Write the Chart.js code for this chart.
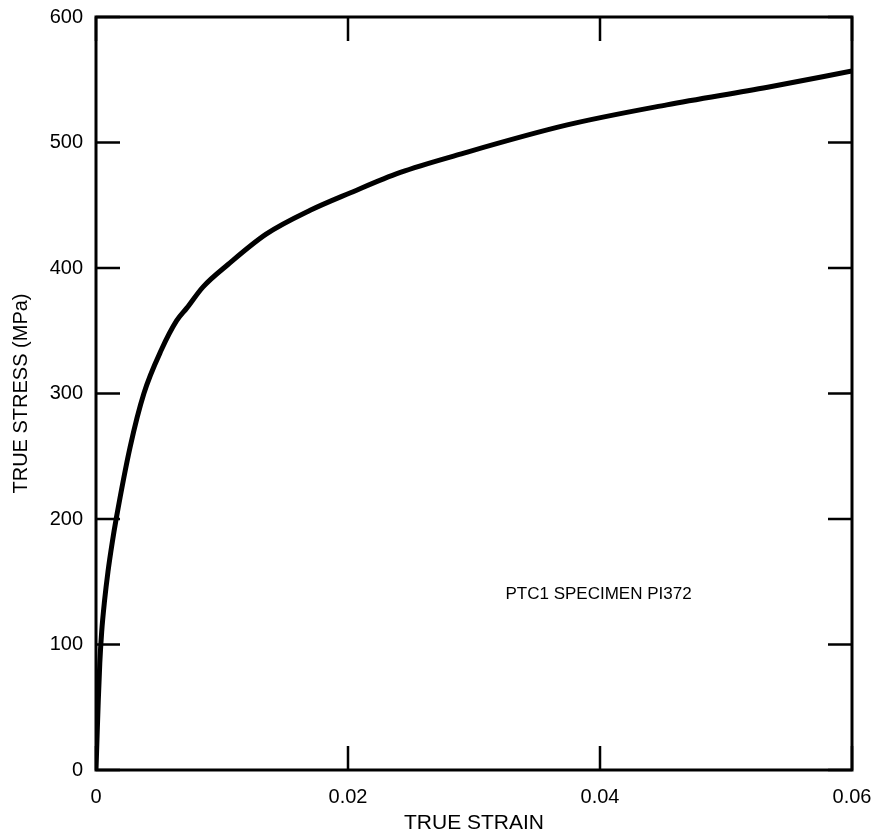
<!DOCTYPE html>
<html>
<head>
<meta charset="utf-8">
<script src="https://cdn.jsdelivr.net/npm/chart.js@4.4.0/dist/chart.umd.min.js"></script>
<style>
  html, body { margin: 0; padding: 0; background: #fff; }
  #wrap { width: 881px; height: 836px; }
</style>
</head>
<body>
<div id="wrap"><canvas id="myChart" width="881" height="836"></canvas></div>
<script>
// values
const strain = [0, 0.00008, 0.00018, 0.0003, 0.00045, 0.00068, 0.00095, 0.0013, 0.0016, 0.0027, 0.0038, 0.0052, 0.0064, 0.0072, 0.0085, 0.0105, 0.0135, 0.017, 0.0202, 0.0241, 0.029, 0.0374, 0.0453, 0.0533, 0.06];
const stress = [0, 25, 55, 85, 110, 135, 158, 182, 200, 257, 300, 335, 358, 368, 385, 403, 427, 446, 460, 476, 491, 514, 530, 544, 557];
const xTicks = [0, 0.02, 0.04, 0.06];
const yTicks = [0, 100, 200, 300, 400, 500, 600];
const noteText = 'PTC1 SPECIMEN PI372';
const notePos = { x: 0.0325, y: 140 };

const FONT = '"Liberation Sans", Arial, Helvetica, sans-serif';

// frame + inward ticks on all four sides, and the specimen note
const framePlugin = {
  id: 'frame',
  afterDraw(chart) {
    const c = chart.ctx;
    const a = chart.chartArea;
    const xs = chart.scales.x;
    const ys = chart.scales.y;
    const len = 24;
    c.save();
    c.strokeStyle = '#000';
    c.lineWidth = 3;
    c.strokeRect(a.left, a.top, a.right - a.left, a.bottom - a.top);
    c.lineWidth = 2.5;
    c.beginPath();
    xTicks.forEach(function(v) {
      const px = xs.getPixelForValue(v);
      c.moveTo(px, a.bottom); c.lineTo(px, a.bottom - len);
      c.moveTo(px, a.top); c.lineTo(px, a.top + len);
    });
    yTicks.forEach(function(v) {
      const py = ys.getPixelForValue(v);
      c.moveTo(a.left, py); c.lineTo(a.left + len, py);
      c.moveTo(a.right, py); c.lineTo(a.right - len, py);
    });
    c.stroke();
    c.fillStyle = '#000';
    c.font = '17px ' + FONT;
    c.textAlign = 'left';
    c.textBaseline = 'middle';
    c.fillText(noteText, xs.getPixelForValue(notePos.x), ys.getPixelForValue(notePos.y));
    c.restore();
  }
};

const ctx = document.getElementById('myChart').getContext('2d');
const chart = new Chart(ctx, {
  type: 'scatter',
  data: {
    datasets: [{
      label: 'True stress',
      data: strain.map(function(s, i) { return { x: s, y: stress[i] }; }),
      showLine: true,
      borderColor: '#000',
      borderWidth: 5,
      pointRadius: 0,
      cubicInterpolationMode: 'monotone',
      borderCapStyle: 'round',
    }]
  },
  options: {
    responsive: false,
    animation: false,
    layout: { padding: { top: 17, right: 29, left: 0, bottom: 0 } },
    plugins: {
      legend: { display: false },
      tooltip: { enabled: false },
    },
    scales: {
      x: {
        type: 'linear',
        min: 0,
        max: 0.06,
        afterBuildTicks(scale) {
          scale.ticks = xTicks.map(function(v) { return { value: v }; });
        },
        afterFit(scale) {
          scale.height = 66;
          scale.paddingLeft = 0;
          scale.paddingRight = 0;
        },
        grid: { display: false, drawTicks: false },
        border: { display: false },
        ticks: {
          color: '#000',
          padding: 15,
          font: { family: FONT, size: 20 },
          callback: function(v) { return v === 0 ? '0' : v.toFixed(2); }
        },
        title: {
          display: true,
          text: 'TRUE STRAIN',
          color: '#000',
          font: { family: FONT, size: 21 },
          padding: { top: 0, bottom: 0 }
        }
      },
      y: {
        type: 'linear',
        min: 0,
        max: 600,
        afterBuildTicks(scale) {
          scale.ticks = yTicks.map(function(v) { return { value: v }; });
        },
        afterFit(scale) {
          scale.width = 96;
          scale.paddingTop = 0;
          scale.paddingBottom = 0;
        },
        grid: { display: false, drawTicks: false },
        border: { display: false },
        ticks: {
          color: '#000',
          padding: 13,
          font: { family: FONT, size: 20 },
        },
        title: {
          display: true,
          text: 'TRUE STRESS (MPa)',
          color: '#000',
          font: { family: FONT, size: 20 },
          padding: { top: 9, bottom: 0 }
        }
      }
    }
  },
  plugins: [framePlugin]
});
</script>
</body>
</html>
